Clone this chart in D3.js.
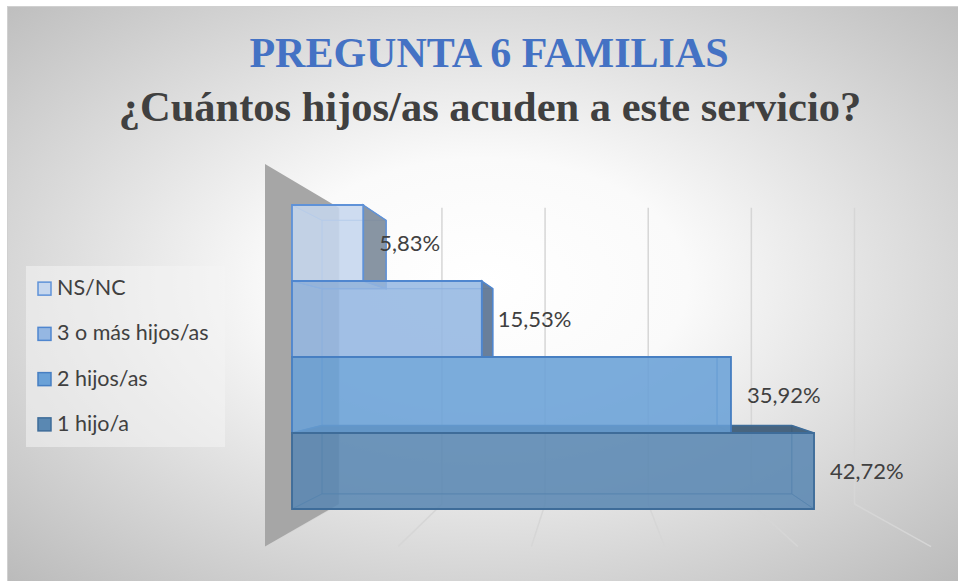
<!DOCTYPE html>
<html><head><meta charset="utf-8">
<script src="https://cdn.jsdelivr.net/npm/d3@7"></script>
<style>body{margin:0;background:#fff;overflow:hidden}</style>
</head><body><svg id="c" width="958" height="581"></svg>
<script>
const titleLine1 = "PREGUNTA 6 FAMILIAS";
const titleLine2 = "¿Cuántos hijos/as acuden a este servicio?";
const series = ["NS/NC", "3 o más hijos/as", "2 hijos/as", "1 hijo/a"];
const values = [5.83, 15.53, 35.92, 42.72];
const valueLabels = ["5,83%", "15,53%", "35,92%", "42,72%"];
const gridTicks = [0, 10, 20, 30, 40, 50];
const fills = ["#c6d7ee", "#95b7e2", "#6aa1d7", "#5a88b2"];
const strokes = ["#5f92d8", "#4f86cf", "#477fc2", "#3e6c99"];

const svg = d3.select("#c");
const defs = svg.append("defs");
const rg = defs.append("radialGradient").attr("id", "bg")
  .attr("cx", "0.5").attr("cy", "0.48").attr("r", "0.72");
rg.append("stop").attr("offset", "0").attr("stop-color", "#ffffff");
rg.append("stop").attr("offset", "0.3").attr("stop-color", "#fafafa");
rg.append("stop").attr("offset", "1").attr("stop-color", "#bbbbbb");

// chart area
svg.append("rect").attr("x", 7).attr("y", 6).attr("width", 952).attr("height", 576)
  .attr("fill", "#d0d0d0");
svg.append("rect").attr("x", 8).attr("y", 7).attr("width", 950).attr("height", 574)
  .attr("fill", "url(#bg)");

// 3D geometry
const x = d3.scaleLinear().domain([0, 50]).range([292, 903]);
const y = d3.scaleBand().domain(series).range([205, 509]).padding(0);
const plotTop = 180, plotBottom = 531;
const VP = [592, 358];
const S_BACKWALL = 0.844, S_FRONTWALL = 1.09, S_BARFRONT = 1, S_BARBACK = 0.9;
const P = (xf, yf, s) => [VP[0] + (xf - VP[0]) * s, VP[1] + (yf - VP[1]) * s];
const poly = pts => "M" + pts.map(p => p.join(",")).join("L") + "Z";

const g = svg.append("g");

// back wall gridlines
g.selectAll(".grid").data(gridTicks).join("line")
  .attr("x1", d => P(x(d), plotTop, S_BACKWALL)[0])
  .attr("y1", d => P(x(d), plotTop, S_BACKWALL)[1])
  .attr("x2", d => P(x(d), plotBottom, S_BACKWALL)[0])
  .attr("y2", d => P(x(d), plotBottom, S_BACKWALL)[1])
  .attr("stroke", "#d6d6d6").attr("stroke-width", 1.5);
// floor gridlines
g.selectAll(".floor").data(gridTicks).join("line")
  .attr("x1", d => P(x(d), plotBottom, S_BACKWALL)[0])
  .attr("y1", d => P(x(d), plotBottom, S_BACKWALL)[1])
  .attr("x2", d => P(x(d), plotBottom, S_FRONTWALL)[0])
  .attr("y2", d => P(x(d), plotBottom, S_FRONTWALL)[1])
  .attr("stroke", "#d6d6d6").attr("stroke-width", 1.5);

// side wall
g.append("path").attr("d", poly([
  P(x(0), plotTop, S_FRONTWALL), P(x(0), plotTop, S_BACKWALL),
  P(x(0), plotBottom, S_BACKWALL), P(x(0), plotBottom, S_FRONTWALL)
])).attr("fill", "#a6a6a6");

// bars
const bars = series.map((s, i) => {
  const x0 = x(0), x1 = x(values[i]), y0 = y(s), y1 = y(s) + y.bandwidth();
  const f = (xx, yy) => P(xx, yy, S_BARFRONT), b = (xx, yy) => P(xx, yy, S_BARBACK);
  return {
    i, x0, x1, y0, y1,
    front: [f(x0, y0), f(x1, y0), f(x1, y1), f(x0, y1)],
    back: [b(x0, y0), b(x1, y0), b(x1, y1), b(x0, y1)],
    left: [f(x0, y0), b(x0, y0), b(x0, y1), f(x0, y1)],
    right: [f(x1, y0), b(x1, y0), b(x1, y1), f(x1, y1)],
    top: [f(x0, y0), f(x1, y0), b(x1, y0), b(x0, y0)],
    bottom: [f(x0, y1), f(x1, y1), b(x1, y1), b(x0, y1)],
    rightVis: x1 < VP[0], topVis: y0 > VP[1], bottomVis: y1 < VP[1]
  };
});
const bg = g.append("g");
// pass 1: back faces and hidden faces
bars.forEach(d => {
  const c = fills[d.i], st = strokes[d.i];
  bg.append("path").attr("d", poly(d.back)).attr("fill", c).attr("fill-opacity", 0.35)
    .attr("stroke", st).attr("stroke-opacity", 0.6).attr("stroke-width", 1);
  bg.append("path").attr("d", poly(d.left)).attr("fill", c).attr("fill-opacity", 0.3)
    .attr("stroke", st).attr("stroke-opacity", 0.5).attr("stroke-width", 1);
  if (!d.rightVis) bg.append("path").attr("d", poly(d.right)).attr("fill", c).attr("fill-opacity", 0.3)
    .attr("stroke", st).attr("stroke-opacity", 0.6).attr("stroke-width", 1);
  if (!d.topVis) bg.append("path").attr("d", poly(d.top)).attr("fill", c).attr("fill-opacity", 0.2)
    .attr("stroke", st).attr("stroke-opacity", 0.5).attr("stroke-width", 1);
  if (!d.bottomVis) bg.append("path").attr("d", poly(d.bottom)).attr("fill", c).attr("fill-opacity", 0.3)
    .attr("stroke", st).attr("stroke-opacity", 0.6).attr("stroke-width", 1);
});
// pass 2: visible side faces
bars.forEach(d => {
  const dark = d3.color(fills[d.i]).darker(1.15).formatHex(), st = strokes[d.i];
  if (d.rightVis) bg.append("path").attr("d", poly(d.right)).attr("fill", dark).attr("fill-opacity", 0.95)
    .attr("stroke", st).attr("stroke-width", 1.5);
  if (d.topVis) bg.append("path").attr("d", poly(d.top)).attr("fill", dark).attr("fill-opacity", 0.9)
    .attr("stroke", st).attr("stroke-width", 1.5);
  if (d.bottomVis) bg.append("path").attr("d", poly(d.bottom)).attr("fill", dark).attr("fill-opacity", 0.5)
    .attr("stroke", st).attr("stroke-width", 1);
});
// pass 3: front faces
bars.forEach(d => {
  bg.append("path").attr("d", poly(d.front)).attr("fill", fills[d.i]).attr("fill-opacity", 0.82)
    .attr("stroke", strokes[d.i]).attr("stroke-width", 1.8);
});

// data labels
svg.append("g").selectAll("text").data(series).join("text")
  .attr("x", (s, i) => x(values[i]) + 16)
  .attr("y", s => y(s) + y.bandwidth() / 2 + 2)
  .attr("dominant-baseline", "middle")
  .attr("font-family", "Lato, 'Open Sans', sans-serif").attr("font-size", 22)
  .attr("fill", "#404040")
  .text((s, i) => valueLabels[i]);

// legend
const lg = svg.append("g");
lg.append("rect").attr("x", 26).attr("y", 266).attr("width", 199).attr("height", 181)
  .attr("fill", "#f4f4f4").attr("fill-opacity", 0.55);
const ly = d3.scaleBand().domain(series).range([266, 447]);
const items = lg.selectAll("g.item").data(series).join("g").attr("class", "item")
  .attr("transform", s => `translate(0,${ly(s) + ly.bandwidth() / 2})`);
items.append("rect").attr("x", 38).attr("y", -6.5).attr("width", 13).attr("height", 13)
  .attr("fill", (s, i) => fills[i]).attr("stroke", (s, i) => strokes[i]).attr("stroke-width", 1.5);
items.append("text").attr("x", 57).attr("y", 1).attr("dominant-baseline", "middle")
  .attr("font-family", "Lato, 'Open Sans', sans-serif").attr("font-size", 21.5)
  .attr("fill", "#404040").text(s => s);

// title
svg.append("text").attr("x", 489).attr("y", 67).attr("text-anchor", "middle")
  .attr("font-family", "'Liberation Serif', 'Times New Roman', serif").attr("font-weight", "bold")
  .attr("font-size", 42).attr("fill", "#4472c4").text(titleLine1);
svg.append("text").attr("x", 490).attr("y", 121).attr("text-anchor", "middle")
  .attr("font-family", "'Liberation Serif', 'Times New Roman', serif").attr("font-weight", "bold")
  .attr("font-size", 42.5).attr("fill", "#404040").text(titleLine2);
</script></body></html>
